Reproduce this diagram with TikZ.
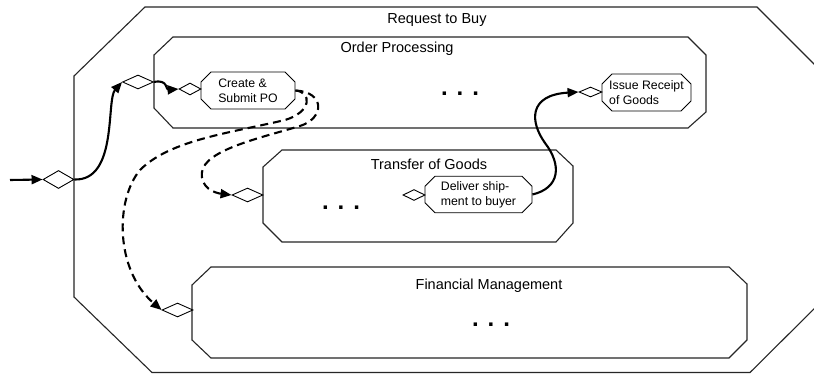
\documentclass[tikz,border=0pt]{standalone}
\usepackage{fontspec}
\setmainfont{Liberation Sans}
\usetikzlibrary{shapes.geometric,shapes.misc,arrows.meta}

\begin{document}
\begin{tikzpicture}[x=1pt,y=-1pt,
  frame/.style={draw=black!85, line width=1.1pt},
  gate/.style={draw, shape=diamond, inner sep=0pt, line width=0.9pt},
  task/.style={draw, chamfered rectangle, chamfered rectangle xsep=5pt,
    chamfered rectangle ysep=5pt, line width=0.9pt, align=left,
    font=\fontsize{12.3}{15}\selectfont, inner sep=0pt},
  flow/.style={line width=2.1pt, -{Triangle[length=11pt,width=9pt]}},
  msg/.style={flow, dash pattern=on 8pt off 5pt},
  title/.style={font=\fontsize{14.5}{17}\selectfont},
  more/.style={font=\fontsize{24}{24}\selectfont\bfseries, anchor=base}
]
\useasboundingbox (0,0) rectangle (814,374);
\fill[white] (0,0) rectangle (814,374);

% process frames
\draw[frame] (145,7) -- (757,7) -- (823,73) -- (823,300) -- (750,372.5)
  -- (152,372.5) -- (74,297) -- (74,76) -- cycle;
\node[title] at (437,20) {Request to Buy};

\draw[frame] (173,37) -- (688,37) -- (706,55) -- (706,112) -- (688,128)
  -- (173,128) -- (154,108) -- (154,55) -- cycle;
\node[title] at (397,49) {Order Processing};
\node[more] at (460,96) {.\hspace{9pt}.\hspace{9pt}.};

\draw[frame] (282,150) -- (556,150) -- (573,166) -- (573,223) -- (556,242)
  -- (282,242) -- (263,223) -- (263,167) -- cycle;
\node[title] at (429,164) {Transfer of Goods};
\node[more] at (341,210) {.\hspace{9pt}.\hspace{9pt}.};

\draw[frame] (211,267) -- (729,267) -- (747,284) -- (747,340) -- (729,358)
  -- (211,358) -- (192,340) -- (192,285) -- cycle;
\node[title] at (489,286) {Financial Management};
\node[more] at (491,326) {.\hspace{9pt}.\hspace{9pt}.};

% gateways and tasks
\node[gate, minimum width=31pt, minimum height=18pt] (entry) at (58.5,179.5) {};
\node[gate, minimum width=31pt, minimum height=14pt] (opin) at (138,82) {};
\node[gate, minimum width=22pt, minimum height=12pt] (cpin) at (190,89) {};
\node[task, minimum width=94pt, minimum height=37pt] (create) at (248,90.5)
  {Create \&\\Submit PO};
\node[gate, minimum width=31pt, minimum height=14pt] (tgin) at (247.5,195) {};
\node[gate, minimum width=22pt, minimum height=11pt] (dsin) at (414,195) {};
\node[task, minimum width=107pt, minimum height=35pt] (deliver) at (478.5,194.5)
  {Deliver ship-\\ment to buyer};
\node[gate, minimum width=23pt, minimum height=10pt] (irin) at (590.5,92) {};
\node[task, minimum width=89pt, minimum height=37pt] (issue) at (646.5,92.5)
  {Issue Receipt\\of Goods};
\node[gate, minimum width=31pt, minimum height=14pt] (fmin) at (177.5,310) {};

% control flow
\coordinate (src) at (10,180);
\draw[flow] (src) -- (entry.west);
\draw[flow] (entry.east) .. controls (118,181) and (106,100) .. (opin.west);
\draw[flow] (opin.east) .. controls (168,79) and (166,90) .. (cpin.west);
\draw[flow] (deliver.east) .. controls (560,188) and (562,165) .. (545,143)
  .. controls (530,122) and (528,95) .. (irin.west);

% message flow
\draw[msg] (create.east) .. controls (325,92) and (325,118) .. (300,126)
  .. controls (260,138) and (205,150) .. (202,172)
  .. controls (200,188) and (215,193) .. (tgin.west);
\draw[msg] (create.east) .. controls (312,92) and (312,112) .. (285,120)
  .. controls (230,133) and (170,140) .. (140,170)
  .. controls (115,200) and (115,270) .. (fmin.west);
\end{tikzpicture}
\end{document}
